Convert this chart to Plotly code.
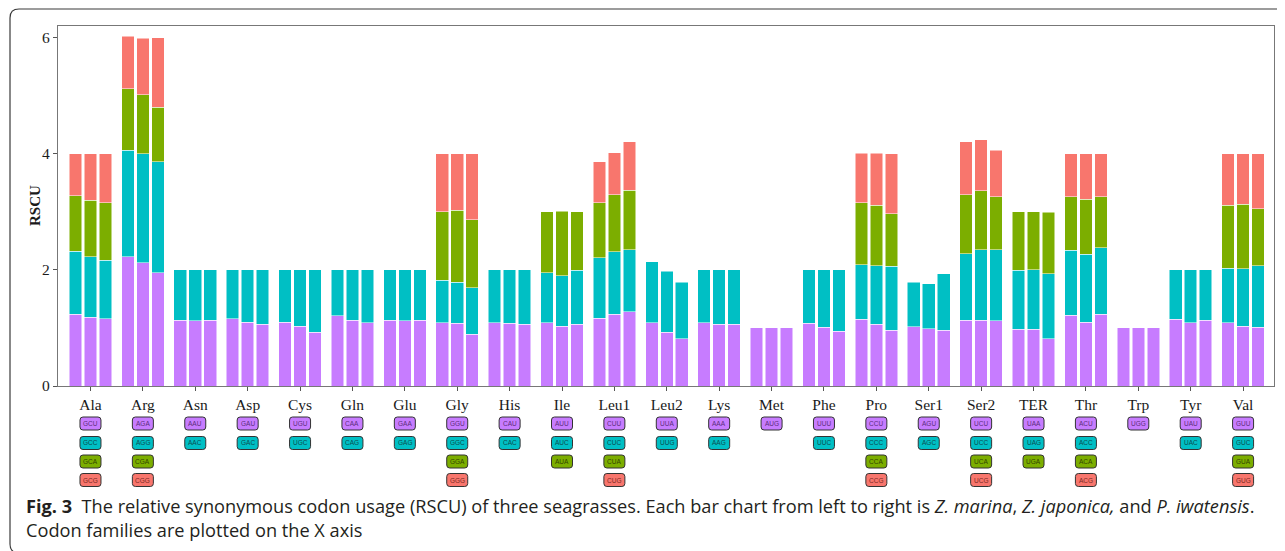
import plotly.graph_objects as go

amino_acids = ["Ala", "Arg", "Asn", "Asp", "Cys", "Gln", "Glu", "Gly", "His", "Ile", "Leu1", "Leu2",
               "Lys", "Met", "Phe", "Pro", "Ser1", "Ser2", "TER", "Thr", "Trp", "Tyr", "Val"]

codons = [
    ["GCU", "GCC", "GCA", "GCG"], ["AGA", "AGG", "CGA", "CGG"], ["AAU", "AAC"], ["GAU", "GAC"],
    ["UGU", "UGC"], ["CAA", "CAG"], ["GAA", "GAG"], ["GGU", "GGC", "GGA", "GGG"], ["CAU", "CAC"],
    ["AUU", "AUC", "AUA"], ["CUU", "CUC", "CUA", "CUG"], ["UUA", "UUG"], ["AAA", "AAG"], ["AUG"],
    ["UUU", "UUC"], ["CCU", "CCC", "CCA", "CCG"], ["AGU", "AGC"], ["UCU", "UCC", "UCA", "UCG"],
    ["UAA", "UAG", "UGA"], ["ACU", "ACC", "ACA", "ACG"], ["UGG"], ["UAU", "UAC"], ["GUU", "GUC", "GUA", "GUG"],
]

species = ["Z. marina", "Z. japonica", "P. iwatensis"]

z_marina = [
    [1.24, 1.08, 0.96, 0.72], [2.23, 1.83, 1.06, 0.90], [1.13, 0.87], [1.16, 0.84], [1.10, 0.90],
    [1.21, 0.79], [1.13, 0.87], [1.09, 0.73, 1.18, 1.00], [1.09, 0.91], [1.09, 0.86, 1.05],
    [1.17, 1.04, 0.95, 0.70], [1.09, 1.05], [1.09, 0.91], [1.00], [1.08, 0.92],
    [1.15, 0.94, 1.07, 0.85], [1.02, 0.77], [1.13, 1.15, 1.01, 0.92], [0.98, 1.01, 1.01],
    [1.22, 1.12, 0.92, 0.74], [1.00], [1.15, 0.85], [1.09, 0.94, 1.08, 0.89],
]
z_japonica = [
    [1.18, 1.05, 0.97, 0.80], [2.12, 1.88, 1.02, 0.97], [1.12, 0.88], [1.10, 0.90], [1.03, 0.97],
    [1.13, 0.87], [1.12, 0.88], [1.08, 0.71, 1.24, 0.97], [1.08, 0.92], [1.03, 0.87, 1.11],
    [1.24, 1.07, 0.98, 0.73], [0.93, 1.05], [1.06, 0.94], [1.00], [1.01, 0.99],
    [1.06, 1.01, 1.04, 0.90], [0.99, 0.77], [1.13, 1.22, 1.01, 0.88], [0.98, 1.02, 1.00],
    [1.10, 1.17, 0.95, 0.78], [1.00], [1.09, 0.91], [1.03, 0.99, 1.11, 0.87],
]
p_iwatensis = [
    [1.16, 1.01, 0.99, 0.84], [1.95, 1.91, 0.94, 1.20], [1.13, 0.87], [1.06, 0.94], [0.93, 1.07],
    [1.09, 0.91], [1.13, 0.87], [0.89, 0.80, 1.17, 1.14], [1.06, 0.94], [1.06, 0.93, 1.01],
    [1.28, 1.07, 1.02, 0.84], [0.81, 0.98], [1.06, 0.94], [1.00], [0.94, 1.06],
    [0.96, 1.10, 0.91, 1.03], [0.96, 0.97], [1.12, 1.23, 0.91, 0.80], [0.81, 1.12, 1.06],
    [1.24, 1.14, 0.88, 0.74], [1.00], [1.13, 0.87], [1.01, 1.06, 0.98, 0.95],
]
species_values = [z_marina, z_japonica, p_iwatensis]

y_ticks = [0, 2, 4, 6]

colors = ["#C77CFF", "#00BFC4", "#7CAE00", "#F8766D"]
text_colors = ["#5a2d7a", "#0b4d50", "#314500", "#7a2a24"]

# layout constants (pixels); page body adds an 8px offset, so figure is 8px smaller
OFF = 8
W, H = 1285 - OFF, 551 - OFF
ML, MR, MT, MB = 58 - OFF, 11, 26 - OFF, 165
PW, PH = W - ML - MR, H - MT - MB
Y_MAX = 6.2
X_RANGE = [-0.62, 22.59]
dodge = 0.286
bar_w = 0.24
PX_PER_X = PW / (X_RANGE[1] - X_RANGE[0])

def pxx(p):
    # screen x pixel -> paper x
    return (p - OFF - ML) / PW

def pxy(p):
    # screen y pixel -> paper y
    return (H - MB - (p - OFF)) / PH

fig = go.Figure()
for k in range(4):
    for s, vals in enumerate(species_values):
        xs, ys = [], []
        for i, v in enumerate(vals):
            if len(v) > k:
                xs.append(i + (s - 1) * dodge)
                ys.append(v[k])
        fig.add_trace(go.Bar(
            x=xs, y=ys, width=bar_w, name=f"{species[s]} codon {k+1}",
            marker=dict(color=colors[k], line=dict(color="white", width=0.5)),
            showlegend=False,
        ))

def rounded_box(xc, yc_paper, w_px, h_px, r_px):
    hw = w_px / 2 / PX_PER_X
    hh = h_px / 2 / PH
    rx = r_px / PX_PER_X
    ry = r_px / PH
    x0, x1 = xc - hw, xc + hw
    y0, y1 = yc_paper - hh, yc_paper + hh
    return (f"M {x0+rx},{y1} L {x1-rx},{y1} Q {x1},{y1} {x1},{y1-ry} L {x1},{y0+ry} "
            f"Q {x1},{y0} {x1-rx},{y0} L {x0+rx},{y0} Q {x0},{y0} {x0},{y0+ry} "
            f"L {x0},{y1-ry} Q {x0},{y1} {x0+rx},{y1} Z")

# codon label boxes below the axis
row_px = [423.5, 443.0, 461.5, 480.0]
annotations = []
shapes = []
for i, cl in enumerate(codons):
    for k, c in enumerate(cl):
        yc = pxy(row_px[k])
        shapes.append(dict(type="path", path=rounded_box(i, yc, 21, 13, 3), xref="x", yref="paper",
                           fillcolor=colors[k], line=dict(color="#333333", width=1), layer="above"))
        annotations.append(dict(
            x=i, y=yc, xref="x", yref="paper",
            text=c, showarrow=False,
            font=dict(family="Liberation Sans", size=6.5, color=text_colors[k]),
            xanchor="center", yanchor="middle",
        ))

annotations.append(dict(
    x=pxx(35), y=pxy(206), xref="paper", yref="paper", xanchor="center", yanchor="middle",
    showarrow=False, textangle=-90, text="<b>RSCU</b>",
    font=dict(family="Liberation Serif", size=15, color="#1a1a1a"),
))

cap_font = dict(family="Open Sans", size=18.2, color="#231f20")
annotations.append(dict(
    x=pxx(24), y=pxy(506), xref="paper", yref="paper", xanchor="left", yanchor="middle",
    showarrow=False, font=cap_font,
    text="<b>Fig. 3</b>&nbsp;&nbsp;The relative synonymous codon usage (RSCU) of three seagrasses. "
         "Each bar chart from left to right is <i>Z. marina</i>, <i>Z. japonica,</i> and <i>P. iwatensis</i>.",
))
annotations.append(dict(
    x=pxx(24), y=pxy(530), xref="paper", yref="paper", xanchor="left", yanchor="middle",
    showarrow=False, font=cap_font,
    text="Codon families are plotted on the X axis",
))

# rounded outer frame (right and bottom edges fall outside the page)
L, R, T, B = pxx(10), pxx(1400), pxy(9), pxy(553)
rx, ry = 9 / PW, 9 / PH
path = (f"M {L+rx},{T} L {R-rx},{T} Q {R},{T} {R},{T-ry} L {R},{B+ry} Q {R},{B} {R-rx},{B} "
        f"L {L+rx},{B} Q {L},{B} {L},{B+ry} L {L},{T-ry} Q {L},{T} {L+rx},{T} Z")
shapes.append(dict(type="path", path=path, xref="paper", yref="paper",
                   line=dict(color="#3a3a3a", width=1.2), fillcolor="rgba(0,0,0,0)", layer="below"))

fig.update_layout(
    width=W, height=H,
    margin=dict(l=ML, r=MR, t=MT, b=MB, pad=0),
    barmode="stack",
    plot_bgcolor="white", paper_bgcolor="white",
    annotations=annotations,
    shapes=shapes,
    xaxis=dict(
        range=X_RANGE, tickmode="array", tickvals=list(range(len(amino_acids))),
        ticktext=amino_acids, ticks="outside", ticklen=4, tickcolor="#555555",
        showline=True, linecolor="#777777", linewidth=1.2, mirror=True,
        showgrid=False, zeroline=False,
        tickfont=dict(family="Liberation Serif", size=15.5, color="#1a1a1a"),
    ),
    yaxis=dict(
        range=[0, Y_MAX], tickmode="array", tickvals=y_ticks, ticks="outside", ticklen=4,
        tickcolor="#555555", showline=True, linecolor="#777777", linewidth=1.2, mirror=True,
        showgrid=False, zeroline=False,
        tickfont=dict(family="Liberation Serif", size=15.5, color="#1a1a1a"),
    ),
)

fig.write_html("out.html")
